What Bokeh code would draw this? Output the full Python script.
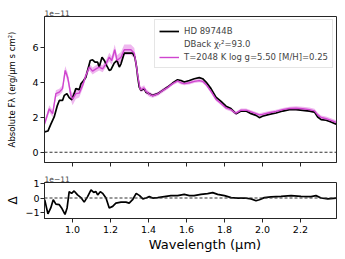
from bokeh.plotting import figure
from bokeh.layouts import column
from bokeh.models import Range1d, Span, Legend, LegendItem, FixedTicker
from bokeh.embed import file_html
from bokeh.resources import INLINE

# ---- data ----
obs_wl = [0.853, 0.87, 0.885, 0.903, 0.92, 0.93, 0.947, 0.956, 0.97, 0.982, 0.996, 1.008, 1.017, 1.035,
          1.044, 1.058, 1.07, 1.079, 1.093, 1.105, 1.118, 1.132, 1.14, 1.155, 1.167, 1.179, 1.193, 1.202,
          1.219, 1.234, 1.246, 1.255, 1.272, 1.29, 1.316, 1.328, 1.337, 1.343, 1.351, 1.36, 1.377, 1.386,
          1.404, 1.422, 1.448, 1.474, 1.5, 1.527, 1.553, 1.571, 1.588, 1.615, 1.641, 1.667, 1.685, 1.703,
          1.729, 1.755, 1.782, 1.808, 1.834, 1.852, 1.861, 1.887, 1.914, 1.94, 1.966, 1.984, 2.0, 2.036,
          2.072, 2.107, 2.142, 2.177, 2.212, 2.247, 2.274, 2.291, 2.309, 2.335, 2.361, 2.388]
obs_flux = [1.17, 1.22, 1.6, 2.03, 2.7, 2.98, 2.98, 3.27, 3.37, 3.14, 3.02, 3.37, 3.66, 3.6,
            3.94, 4.13, 4.32, 4.71, 5.28, 5.32, 5.18, 5.18, 4.9, 5.47, 5.28, 5.0, 4.71, 4.75,
            5.13, 5.28, 4.9, 5.09, 5.7, 5.7, 5.7, 5.47, 4.9, 4.32, 3.75, 3.56, 3.66, 3.46,
            3.37, 3.27, 3.37, 3.56, 3.75, 3.98, 4.17, 4.13, 4.04, 4.13, 4.23, 4.29, 4.23, 4.04,
            3.66, 3.17, 2.93, 2.65, 2.51, 2.31, 2.22, 2.37, 2.37, 2.22, 2.12, 1.99, 2.07, 2.18,
            2.26, 2.37, 2.45, 2.45, 2.41, 2.37, 2.31, 2.03, 1.88, 1.84, 1.74, 1.61]

mod_wl = [0.853, 0.877, 0.895, 0.912, 0.93, 0.947, 0.961, 0.974, 0.991, 1.0, 1.017, 1.035, 1.053, 1.07,
          1.088, 1.105, 1.123, 1.14, 1.158, 1.176, 1.193, 1.206, 1.222, 1.234, 1.255, 1.272, 1.307, 1.325,
          1.337, 1.343, 1.355, 1.36, 1.377, 1.386, 1.404, 1.422, 1.448, 1.474, 1.5, 1.527, 1.553, 1.571,
          1.588, 1.615, 1.641, 1.667, 1.685, 1.703, 1.729, 1.755, 1.782, 1.808, 1.834, 1.852, 1.861, 1.887,
          1.914, 1.94, 1.966, 1.984, 2.0, 2.036, 2.072, 2.107, 2.142, 2.177, 2.212, 2.247, 2.274, 2.291,
          2.309, 2.335, 2.361, 2.388]
mod_flux = [1.65, 2.5, 2.22, 3.37, 3.46, 3.66, 4.71, 4.32, 3.27, 3.05, 3.37, 3.4, 3.85, 4.42,
            4.9, 4.67, 4.8, 4.9, 4.8, 5.09, 5.47, 5.28, 5.9, 5.28, 5.47, 5.9, 5.9, 5.7,
            4.9, 4.42, 3.66, 3.6, 3.7, 3.5, 3.35, 3.25, 3.35, 3.55, 3.72, 3.95, 4.1, 4.0,
            3.95, 4.0, 4.08, 4.12, 4.08, 3.9, 3.5, 3.05, 2.8, 2.55, 2.45, 2.3, 2.25, 2.42,
            2.42, 2.32, 2.22, 2.15, 2.18, 2.27, 2.35, 2.45, 2.52, 2.53, 2.5, 2.45, 2.38, 2.15,
            2.0, 1.93, 1.83, 1.72]
mod_err = [0.15, 0.2, 0.2, 0.2, 0.2, 0.2, 0.25, 0.25, 0.3, 0.35, 0.3, 0.25, 0.2, 0.2,
           0.2, 0.2, 0.2, 0.2, 0.2, 0.2, 0.25, 0.25, 0.3, 0.3, 0.3, 0.3, 0.3, 0.3,
           0.25, 0.2, 0.15, 0.15, 0.15, 0.15, 0.15, 0.12, 0.12, 0.12, 0.1, 0.1, 0.1, 0.1,
           0.1, 0.1, 0.1, 0.1, 0.1, 0.1, 0.1, 0.1, 0.1, 0.1, 0.1, 0.1, 0.1, 0.1,
           0.1, 0.1, 0.1, 0.1, 0.1, 0.1, 0.1, 0.1, 0.1, 0.12, 0.12, 0.12, 0.12, 0.12,
           0.12, 0.12, 0.12, 0.12]

res_wl = [0.853, 0.87, 0.885, 0.898, 0.912, 0.93, 0.942, 0.96, 0.971, 0.982, 0.995, 1.008, 1.026, 1.044,
          1.061, 1.079, 1.097, 1.111, 1.123, 1.132, 1.146, 1.158, 1.176, 1.193, 1.211, 1.228, 1.255, 1.281,
          1.298, 1.316, 1.335, 1.353, 1.37, 1.387, 1.404, 1.422, 1.448, 1.483, 1.518, 1.553, 1.588, 1.615,
          1.64, 1.676, 1.711, 1.738, 1.764, 1.8, 1.835, 1.87, 1.905, 1.94, 1.966, 1.984, 2.01, 2.045,
          2.098, 2.151, 2.203, 2.256, 2.282, 2.309, 2.344, 2.388]
res_val = [-0.12, -1.12, -0.7, -0.12, -0.43, -0.47, -0.7, -1.16, -0.7, 0.45, 0.33, 0.5, 0.22, 0.03,
           -0.29, 0.1, 0.57, 0.4, 0.45, 0.22, 0.45, 0.33, 0.0, -0.7, -0.59, -0.36, -0.29, -0.29,
           -0.36, -0.12, 0.33, 0.17, -0.06, 0.0, 0.1, 0.0, 0.03, 0.1, 0.17, 0.17, 0.26, 0.17,
           0.17, 0.26, 0.31, 0.38, 0.26, 0.17, 0.03, 0.0, 0.0, -0.06, -0.19, -0.12, 0.03, 0.08,
           0.12, 0.17, 0.12, 0.1, 0.17, 0.0, -0.06, 0.0]

x_ticks = [1.0, 1.2, 1.4, 1.6, 1.8, 2.0, 2.2]
x_tick_labels = ["1.0", "1.2", "1.4", "1.6", "1.8", "2.0", "2.2"]
top_yticks = [0, 2, 4, 6]
bot_yticks = [-1, 0, 1]
bot_ytick_labels = ["\u22121", "0", "1"]

label_data = "HD 89744B"
label_fit = "DBack \u03c7\u1d63\u00b2=93.0"
label_model = "T=2048 K log g=5.50 [M/H]=0.25"
offset_text = "1e\u221211"

MAG = "#cf45cf"
BAND = "#eaa0ea"
FONT = "DejaVu Sans"
FRAME = "#262626"

lo = [m - e for m, e in zip(mod_flux, mod_err)]
hi = [m + e for m, e in zip(mod_flux, mod_err)]


def style(p):
    p.grid.visible = False
    p.outline_line_color = FRAME
    p.outline_line_width = 1
    p.title.text = offset_text
    p.title.text_font = FONT
    p.title.text_font_size = "7.5px"
    p.title.text_font_style = "normal"
    p.title.align = "left"
    p.title.offset = 0
    p.title.standoff = 1
    for ax in (p.xaxis[0], p.yaxis[0]):
        ax.axis_line_color = FRAME
        ax.major_tick_line_color = FRAME
        ax.minor_tick_line_color = None
        ax.major_tick_in = 0
        ax.major_tick_out = 4
        ax.major_label_text_font = FONT
        ax.major_label_text_font_size = "9.5px"
        ax.major_label_text_color = "black"
        ax.axis_label_text_font = FONT
        ax.axis_label_text_font_style = "normal"
        ax.axis_label_text_color = "black"
        ax.major_label_standoff = 2


xr = Range1d(0.852, 2.39)

p1 = figure(frame_width=292, frame_height=146, x_range=xr, y_range=Range1d(-0.59, 7.81),
            output_backend="svg", toolbar_location=None,
            min_border_left=44, min_border_right=1, min_border_top=16, min_border_bottom=9)
style(p1)
p1.xaxis.ticker = FixedTicker(ticks=x_ticks)
p1.xaxis.major_label_text_font_size = "1px"
p1.xaxis.major_label_text_color = None
p1.xaxis.major_label_standoff = 0
p1.yaxis.ticker = FixedTicker(ticks=top_yticks)
p1.yaxis.axis_label = "Absolute F\u03bb (erg/\u03bcm s cm\u00b2)"
p1.yaxis.axis_label_text_font_size = "8.5px"
p1.yaxis.axis_label_standoff = 12

p1.varea(x=mod_wl, y1=lo, y2=hi, fill_color=BAND, fill_alpha=0.75)
r_data = p1.line(obs_wl, obs_flux, line_color="black", line_width=1.7)
r_model = p1.line(mod_wl, mod_flux, line_color=MAG, line_width=1.4)
r_dummy = p1.line([], [], line_alpha=0)
p1.add_layout(Span(location=0, dimension="width", line_color="#333333", line_dash="3 2", line_width=1.1))

leg = Legend(items=[LegendItem(label=label_data, renderers=[r_data]),
                    LegendItem(label=label_fit, renderers=[r_dummy]),
                    LegendItem(label=label_model, renderers=[r_model])],
             location="top_right", margin=3, padding=4, spacing=0,
             glyph_width=20, glyph_height=12, label_height=13, label_standoff=5,
             label_text_font=FONT, label_text_font_size="8.5px",
             border_line_color="#cccccc", border_line_width=1,
             background_fill_color="white", background_fill_alpha=0.85)
p1.add_layout(leg)

p2 = figure(frame_width=292, frame_height=36, x_range=xr, y_range=Range1d(-1.45, 1.1),
            output_backend="svg", toolbar_location=None,
            min_border_left=44, min_border_right=1, min_border_top=11, min_border_bottom=0)
style(p2)
p2.xaxis.ticker = FixedTicker(ticks=x_ticks)
p2.xaxis.major_label_overrides = dict(zip(x_ticks, x_tick_labels))
p2.xaxis.major_label_standoff = 3
p2.yaxis.ticker = FixedTicker(ticks=bot_yticks)
p2.yaxis.major_label_overrides = dict(zip(bot_yticks, bot_ytick_labels))
p2.yaxis.major_label_standoff = 1
p2.xaxis.axis_label = "\u00a0" * 7 + "Wavelength (\u03bcm)"
p2.xaxis.axis_label_text_font_size = "13px"
p2.xaxis.axis_label_standoff = 1
p2.yaxis.axis_label = "\u0394"
p2.yaxis.axis_label_text_font_size = "12px"
p2.yaxis.axis_label_standoff = 2

p2.line(res_wl, res_val, line_color="black", line_width=1.7)
p2.add_layout(Span(location=0, dimension="width", line_color="#333333", line_dash="3 2", line_width=1.1))

layout = column(p1, p2, spacing=0)
open("out.html", "w").write(file_html(layout, INLINE))
